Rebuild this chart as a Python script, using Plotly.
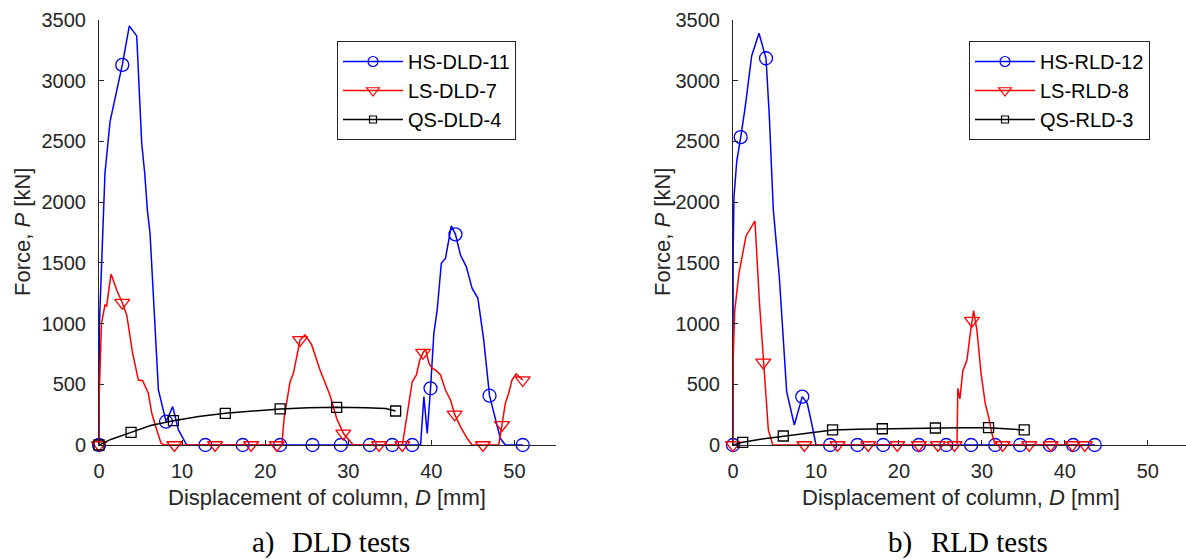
import plotly.graph_objects as go

# ---------------- data: DLD tests (left panel) ----------------
hs_dld_x = [0, 0.05, 0.72, 1.33, 2.8, 3.65, 4.54, 5.14, 5.5, 5.82, 6.14, 7.15, 8.07, 8.87, 9.56, 10.56,
            12.8, 17.3, 21.8, 25.7, 29.1, 32.6, 35.3, 37.7, 38.7, 39.1, 39.5, 39.9, 40.3, 40.7, 41.2,
            41.7, 42.4, 42.9, 43.5, 44.2, 44.9, 45.6, 46.3, 47.0, 47.7, 48.3, 48.9, 51.0]
hs_dld_y = [0, 1000, 2240, 2663, 3130, 3451, 3369, 2485, 2240, 1936, 1746, 453, 192, 316, 124, 0,
            0, 0, 0, 0, 0, 0, 0, 0, 0, 398, 96, 467, 920, 1112, 1497,
            1538, 1804, 1735, 1565, 1469, 1291, 1208, 865, 406, 206, 55, 0, 0]
hs_dld_marks = [0, 2.8, 8.07, 12.8, 17.3, 21.8, 25.7, 29.1, 32.6, 35.3, 37.7, 39.9, 42.9, 47.0, 51.0]

ls_dld_x = [0, 0.02, 0.3, 0.72, 0.92, 1.13, 1.45, 2.13, 2.8, 3.34, 4.05, 4.74, 5.25, 5.94, 6.35, 6.95,
            7.47, 7.9, 9.07, 13.97, 18.3, 21.4, 22.0, 22.3, 23.0, 23.4, 23.9, 24.2, 24.8, 25.6, 26.6,
            27.8, 28.6, 29.4, 30.6, 33.7, 36.5, 36.7, 37.3, 37.7, 38.2, 38.6, 39.0, 39.3, 39.7, 40.1,
            40.5, 41.1, 41.7, 42.3, 42.8, 43.5, 44.3, 44.9, 46.2, 48.1, 48.5, 48.9, 49.3, 49.7, 50.2,
            50.5, 51.0]
ls_dld_y = [0, 398, 1002, 1153, 1145, 1236, 1408, 1277, 1172, 1071, 755, 535, 530, 426, 261, 124,
            14, 0, 0, 0, 0, 0, 0, 233, 521, 590, 755, 865, 906, 824, 618,
            410, 220, 96, 0, 0, 0, 82, 371, 521, 577, 700, 760, 790, 673, 632,
            618, 577, 453, 371, 253, 151, 55, 0, 0, 0, 165, 343, 426, 535, 585,
            563, 535]
ls_dld_marks = [0, 2.8, 9.07, 13.97, 18.3, 21.4, 24.2, 29.4, 33.7, 36.5, 39.0, 42.8, 46.2, 48.5, 51.0]

qs_dld_x = [0, 1.5, 3.86, 6.2, 8.96, 12.0, 15.2, 18.5, 21.8, 25.2, 28.6, 32.2, 34.5, 35.7]
qs_dld_y = [0, 48, 104, 160, 200, 235, 261, 281, 297, 306, 310, 307, 300, 280]
qs_dld_marks = [0, 3.86, 8.96, 15.2, 21.8, 28.6, 35.7]

# ---------------- data: RLD tests (right panel) ----------------
hs_rld_x = [0, 0.02, 0.12, 0.45, 0.93, 1.45, 2.25, 3.13, 3.98, 4.38, 4.86, 5.58, 6.47, 7.39, 8.35,
            8.95, 9.48, 10.0, 11.7, 15.0, 18.1, 22.4, 25.7, 28.7, 31.6, 34.6, 38.2, 41.0, 43.6]
hs_rld_y = [0, 1620, 2050, 2334, 2535, 2773, 3204, 3391, 3185, 2704, 1936, 1386, 439, 165, 398,
            343, 179, 0, 0, 0, 0, 0, 0, 0, 0, 0, 0, 0, 0]
hs_rld_marks = [0, 0.93, 3.98, 8.35, 11.7, 15.0, 18.1, 22.4, 25.7, 28.7, 31.6, 34.6, 38.2, 41.0, 43.6]

ls_rld_x = [0, 0.02, 0.2, 0.72, 1.57, 2.65, 3.17, 3.65, 4.26, 4.8, 8.6, 12.6, 16.3, 19.8, 22.4, 24.7,
            26.7, 27.0, 27.1, 27.35, 27.7, 28.2, 28.6, 28.8, 29.0, 29.4, 29.9, 30.4, 30.8, 31.2, 31.6,
            32.5, 35.7, 38.3, 40.9, 42.4]
ls_rld_y = [0, 700, 1100, 1414, 1722, 1845, 1194, 681, 124, 0, 0, 0, 0, 0, 0, 0,
            0, 0, 467, 380, 610, 700, 920, 1024, 1106, 947, 590, 343, 233, 96, 0,
            0, 0, 0, 0, 0]
ls_rld_marks = [0, 3.65, 8.6, 12.6, 16.3, 19.8, 22.4, 24.7, 26.7, 28.8, 32.5, 35.7, 38.3, 40.9, 42.4]

qs_rld_x = [0, 1.17, 3.5, 6.06, 9.0, 12.0, 15.0, 18.0, 21.0, 24.4, 27.5, 30.8, 33.0, 35.1]
qs_rld_y = [0, 22, 50, 74, 102, 124, 130, 134, 138, 140, 142, 143, 136, 124]
qs_rld_marks = [1.17, 6.06, 12.0, 18.0, 24.4, 30.8, 35.1]

x_ticks = [0, 10, 20, 30, 40, 50]
y_ticks = [0, 500, 1000, 1500, 2000, 2500, 3000, 3500]

# ---------------- styling ----------------
W, H = 1186, 560
SANS = "Liberation Sans, Arial, Helvetica, sans-serif"
SERIF = "Liberation Serif, Times New Roman, serif"
AX = "#262626"
BLUE, RED, BLACK = "#0000ff", "#ff0000", "#000000"

fig = go.Figure()


def add_series(xs, ys, marks, color, symbol, msize, lsize, name, xa, ya, legend):
    # curve
    fig.add_trace(go.Scatter(x=xs, y=ys, mode="lines", line=dict(color=color, width=1.5),
                             xaxis=xa, yaxis=ya, showlegend=False, cliponaxis=False,
                             hoverinfo="skip"))
    # sparse markers sitting on the curve
    my = [ys[xs.index(m)] for m in marks]
    fig.add_trace(go.Scatter(x=marks, y=my, mode="markers",
                             marker=dict(symbol=symbol, size=msize, color=color,
                                         line=dict(color=color, width=1.3)),
                             xaxis=xa, yaxis=ya, showlegend=False, cliponaxis=False,
                             hoverinfo="skip"))
    # legend entry
    fig.add_trace(go.Scatter(x=[None], y=[None], mode="lines+markers", name=name,
                             line=dict(color=color, width=1.5),
                             marker=dict(symbol=symbol, size=lsize, color=color,
                                         line=dict(color=color, width=1.2)),
                             xaxis=xa, yaxis=ya, legend=legend, showlegend=True))


add_series(hs_dld_x, hs_dld_y, hs_dld_marks, BLUE, "circle-open", 13, 10, "HS-DLD-11", "x", "y", "legend")
add_series(ls_dld_x, ls_dld_y, ls_dld_marks, RED, "triangle-down-open", 13, 11, "LS-DLD-7", "x", "y", "legend")
add_series(qs_dld_x, qs_dld_y, qs_dld_marks, BLACK, "square-open", 10, 7, "QS-DLD-4", "x", "y", "legend")

add_series(hs_rld_x, hs_rld_y, hs_rld_marks, BLUE, "circle-open", 13, 10, "HS-RLD-12", "x2", "y2", "legend2")
add_series(ls_rld_x, ls_rld_y, ls_rld_marks, RED, "triangle-down-open", 13, 11, "LS-RLD-8", "x2", "y2", "legend2")
add_series(qs_rld_x, qs_rld_y, qs_rld_marks, BLACK, "square-open", 10, 7, "QS-RLD-3", "x2", "y2", "legend2")


def px_x(p):
    return p / W


def px_y(p):
    return (H - p) / H


common_x = dict(tickvals=x_ticks, ticks="inside", ticklen=5, tickwidth=1, tickcolor=AX,
                showline=True, linecolor=AX, linewidth=1, showgrid=False, zeroline=False,
                tickfont=dict(family=SANS, size=20, color=AX), ticklabelstandoff=8,
                automargin=False)
common_y = dict(tickvals=y_ticks, ticks="inside", ticklen=5, tickwidth=1, tickcolor=AX,
                showline=True, linecolor=AX, linewidth=1, showgrid=False, zeroline=False,
                range=[0, 3500], tickfont=dict(family=SANS, size=20, color=AX),
                ticklabelstandoff=8, automargin=False)

ydom = [px_y(445), px_y(20)]

legend_style = dict(xanchor="left", yanchor="top", bgcolor="white", bordercolor=AX,
                    borderwidth=1, font=dict(family=SANS, size=20, color="black"),
                    itemwidth=60, tracegroupgap=0)

fig.update_layout(
    width=W, height=H,
    margin=dict(l=0, r=0, t=0, b=0, autoexpand=False),
    paper_bgcolor="white", plot_bgcolor="white",
    xaxis=dict(domain=[px_x(99), px_x(556)], range=[0, 55], anchor="y", **common_x),
    yaxis=dict(domain=ydom, anchor="x", **common_y),
    xaxis2=dict(domain=[px_x(733), 1.0], range=[0, 54.6], anchor="y2", **common_x),
    yaxis2=dict(domain=ydom, anchor="x2", **common_y),
    legend=dict(x=px_x(337), y=px_y(41), **legend_style),
    legend2=dict(x=px_x(969), y=px_y(41), **legend_style),
    showlegend=True,
)

annotations = []
# axis titles
for cx in (327, 961):
    annotations.append(dict(text="Displacement of column, <i>D</i> [mm]", x=px_x(cx), y=px_y(497),
                            xref="paper", yref="paper", xanchor="center", yanchor="middle",
                            showarrow=False, font=dict(family=SANS, size=22, color=AX)))
for cx in (23, 663):
    annotations.append(dict(text="Force, <i>P</i> [kN]", x=px_x(cx), y=px_y(232),
                            xref="paper", yref="paper", xanchor="center", yanchor="middle",
                            textangle=-90, showarrow=False,
                            font=dict(family=SANS, size=22, color=AX)))
# panel captions
for lx, label, tx, title in ((250, "a)", 290, "DLD tests"), (886, "b)", 929, "RLD tests")):
    annotations.append(dict(text=label, x=px_x(lx), y=px_y(542), xref="paper", yref="paper",
                            xanchor="left", yanchor="middle", showarrow=False,
                            font=dict(family=SERIF, size=29, color="black")))
    annotations.append(dict(text=title, x=px_x(tx), y=px_y(542), xref="paper", yref="paper",
                            xanchor="left", yanchor="middle", showarrow=False,
                            font=dict(family=SERIF, size=29, color="black")))
fig.update_layout(annotations=annotations)

fig.write_html("out.html")
